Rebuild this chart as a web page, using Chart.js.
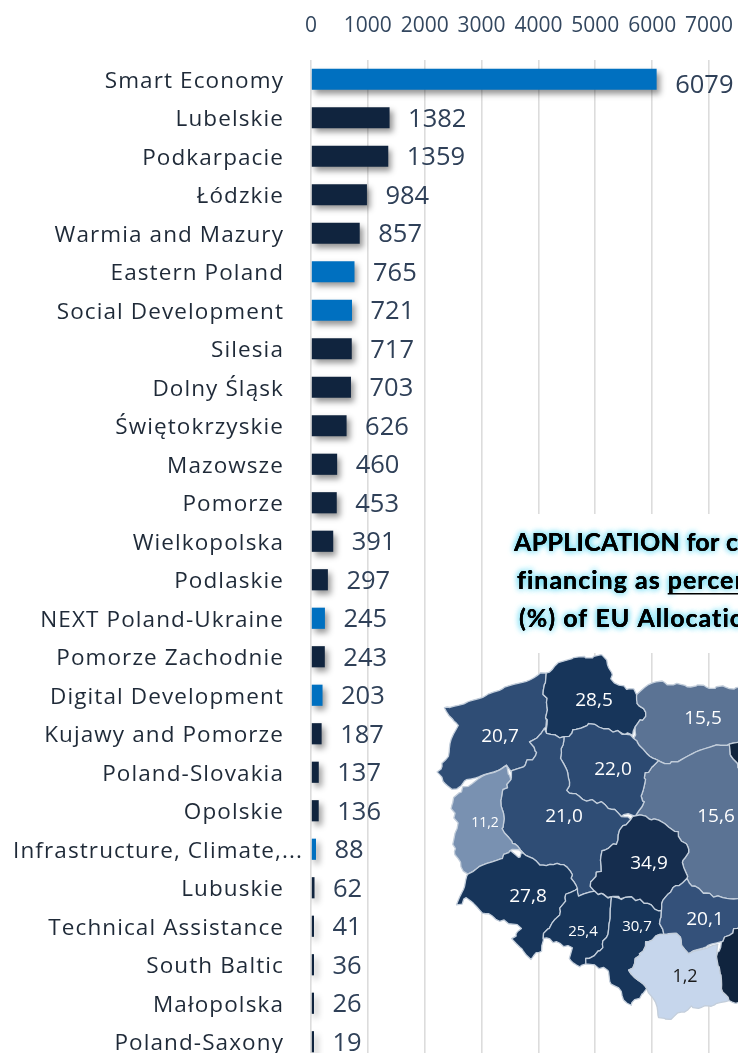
<!DOCTYPE html>
<html><head><meta charset="utf-8">
<script src="https://cdn.jsdelivr.net/npm/chart.js@4/dist/chart.umd.min.js"></script>
<style>html,body{margin:0;padding:0;background:#fff;overflow:hidden;width:738px;height:1053px}canvas{display:block;filter:blur(.35px)}</style>
</head><body><canvas id="c" width="738" height="1061"></canvas>
<script>
const categories=["Smart Economy","Lubelskie","Podkarpacie","Łódzkie","Warmia and Mazury","Eastern Poland","Social Development","Silesia","Dolny Śląsk","Świętokrzyskie","Mazowsze","Pomorze","Wielkopolska","Podlaskie","NEXT Poland-Ukraine","Pomorze Zachodnie","Digital Development","Kujawy and Pomorze","Poland-Slovakia","Opolskie","Infrastructure, Climate,...","Lubuskie","Technical Assistance","South Baltic","Małopolska","Poland-Saxony"];
const values=[6079,1382,1359,984,857,765,721,717,703,626,460,453,391,297,245,243,203,187,137,136,88,62,41,36,26,19];
const nationalPrograms=["Smart Economy","Eastern Poland","Social Development","NEXT Poland-Ukraine","Digital Development","Infrastructure, Climate,..."];
const xTicks=[0,1000,2000,3000,4000,5000,6000,7000];
const titleLines=["APPLICATION for co-","financing as percentage","(%) of EU Allocation"];
const mapLabels=["20,7","28,5","15,5","22,0","21,0","11,2","15,6","34,9","27,8","25,4","30,7","20,1","1,2"];

// Inset choropleth illustration (not on the chart's axes): outlines in picture units
const mapShapes=[
 {fill:'#2f4d75',text:[0,500,737,19],pts:[[445,709],[451,706],[470,700],[490,693],[510,687],[525,680],[540,673],[545,673],[543,690],[547,703],[545,717],[545,730],[530,743],[538,753],[522,767],[510,770],[508,765],[467,780],[453,790],[443,780],[438,773],[447,755],[457,727],[453,717]]},
 {fill:'#17355a',text:[1,594,701,19],pts:[[545,673],[563,662],[583,657],[603,656],[610,667],[612,680],[623,687],[635,690],[638,703],[647,717],[638,723],[633,735],[617,732],[600,727],[590,725],[577,728],[565,738],[548,733],[545,717],[547,703],[543,690]]},
 {fill:'#5b7394',text:[2,703,719,19],pts:[[638,693],[657,682],[680,685],[710,687],[745,688],[745,740],[730,743],[713,747],[693,755],[677,763],[657,762],[643,750],[633,737],[638,723],[647,717],[638,703]]},
 {fill:'#5b7394',text:[6,716,817,19],pts:[[657,762],[677,763],[693,755],[713,747],[730,743],[732,757],[738,768],[745,770],[745,897],[723,898],[703,892],[687,880],[683,860],[690,850],[677,833],[663,822],[637,815],[643,803],[642,797],[647,780],[643,777]]},
 {fill:'#10243e',pts:[[730,743],[745,740],[745,770],[738,768],[732,757]]},
 {fill:'#2c4a72',text:[3,613,770,19],pts:[[565,738],[577,728],[590,725],[600,727],[617,732],[633,737],[643,750],[657,762],[643,777],[647,780],[642,797],[643,803],[637,815],[620,815],[600,803],[587,800],[567,790],[570,780],[563,763],[560,750]]},
 {fill:'#2f4d75',text:[4,564,817,19],pts:[[545,730],[548,733],[565,738],[560,750],[563,763],[570,780],[567,790],[587,800],[600,803],[620,815],[630,820],[623,827],[615,843],[603,852],[600,870],[590,883],[593,892],[580,897],[575,887],[570,870],[557,862],[547,867],[533,860],[525,852],[513,843],[503,830],[502,793],[510,780],[510,770],[522,767],[538,753],[530,743]]},
 {fill:'#7991b1',text:[5,485,823,14],pts:[[508,765],[510,780],[502,793],[503,830],[513,843],[525,852],[510,850],[500,860],[480,868],[467,873],[457,860],[453,843],[457,823],[452,810],[455,797],[467,785]]},
 {fill:'#152d4e',text:[7,649,864,19],pts:[[637,815],[663,822],[677,833],[690,850],[683,860],[687,880],[667,893],[660,912],[643,902],[630,898],[613,897],[593,892],[590,883],[600,870],[603,852],[615,843],[623,827],[630,820]]},
 {fill:'#17355a',text:[8,528,897,19],pts:[[467,873],[480,868],[500,860],[510,850],[517,858],[525,852],[533,860],[547,867],[557,862],[570,870],[575,887],[577,890],[567,893],[557,917],[542,937],[543,950],[530,958],[513,940],[520,927],[500,920],[480,910],[467,897],[458,906],[463,893]]},
 {fill:'#17355a',text:[9,583,932,15],pts:[[577,890],[580,897],[593,892],[613,898],[610,917],[607,933],[600,950],[587,960],[580,968],[570,957],[573,948],[542,937],[557,917],[567,893]]},
 {fill:'#17355a',text:[10,637,927,15],pts:[[613,898],[630,898],[643,902],[660,912],[660,920],[663,933],[647,943],[630,970],[647,990],[630,1005],[610,980],[607,970],[587,963],[587,960],[600,950],[607,933],[610,917]]},
 {fill:'#34517a',text:[11,705,920,19],pts:[[687,880],[703,892],[723,898],[745,897],[745,922],[738,927],[720,943],[687,953],[677,935],[663,933],[660,920],[660,912],[667,893]]},
 {fill:'#c6d6ec',text:[12,685,977,18,'#1a1a1a'],pts:[[663,933],[677,935],[687,953],[718,943],[718,957],[720,980],[728,1002],[710,1007],[690,1007],[670,1018],[660,1017],[650,993],[647,990],[630,970],[647,943]]},
 {fill:'#10243e',pts:[[745,922],[738,927],[720,943],[718,957],[720,980],[728,1002],[745,1002]]}
];

// rugged border look: same position always shifts the same way, so shared borders stay shared
const rough=(x,y)=>[x+1.5*Math.sin(1.7*y+.9*x),y+1.5*Math.sin(1.9*x+.8*y)];
function tracePath(c,pts){
 c.beginPath();
 pts.forEach((p,i)=>{
  const q=pts[(i+1)%pts.length],n=Math.max(1,Math.round(Math.hypot(q[0]-p[0],q[1]-p[1])/4));
  for(let k=0;k<n;k++){
   const a=rough(p[0]+(q[0]-p[0])*k/n,p[1]+(q[1]-p[1])*k/n);
   (i||k)?c.lineTo(a[0],a[1]):c.moveTo(a[0],a[1]);
  }
 });
 c.closePath();
}

const shadowPlugin={id:'barShadow',
 beforeDatasetDraw(ch){const c=ch.ctx;c.save();c.shadowColor='rgba(0,0,0,.42)';c.shadowBlur=6;c.shadowOffsetX=3;c.shadowOffsetY=4;},
 afterDatasetDraw(ch){ch.ctx.restore();}};

const yLabelPlugin={id:'yLabelStyle',beforeDraw(ch){
 const s=ch.scales.y,c=ch.ctx;if(s._styled)return;s._styled=true;
 const items=s.getLabelItems();
 items.forEach(it=>{it.options.translation[1]+=2;});
 items[categories.indexOf("Infrastructure, Climate,...")].options.translation[0]+=19;
 const draw=s.drawLabels;
 s.drawLabels=function(a){c.letterSpacing='1.1px';draw.call(this,a);c.letterSpacing='0px';};
}};

const valuePlugin={id:'valueLabels',afterDatasetsDraw(ch){
 const c=ch.ctx,meta=ch.getDatasetMeta(0);c.save();
 c.font='25.5px "Open Sans"';c.fillStyle='#2f4058';c.textAlign='left';c.textBaseline='middle';
 meta.data.forEach((b,i)=>{c.fillText(String(values[i]),b.x+18.5,b.y+(i===0?6:1.5));});
 c.restore();}};

const insetPlugin={id:'inset',afterDatasetsDraw(ch){
 const c=ch.ctx;c.save();
 c.fillStyle='#fff';c.fillRect(503,514,240,139);
 c.font='bold 25px Lato';c.textBaseline='alphabetic';c.textAlign='left';
 const lx=[514,517,519],ly=[551,589,627],sp=['.3px','1px','1px'];
 titleLines.forEach((t,i)=>{
  c.letterSpacing=sp[i];
  c.save();c.shadowColor='#5fd8f2';c.shadowBlur=6;c.fillStyle='#000';
  c.fillText(t,lx[i],ly[i]);c.fillText(t,lx[i],ly[i]);c.restore();
  c.fillStyle='#000';c.fillText(t,lx[i],ly[i]);
 });
 c.letterSpacing='1px';
 const w0=c.measureText('financing as ').width;
 c.letterSpacing='0px';
 c.fillStyle='#000';c.fillRect(lx[1]+w0,ly[1]+4,120,1.5);
 mapShapes.forEach(s=>{
  tracePath(c,s.pts);
  c.fillStyle=s.fill;c.fill();c.strokeStyle='#c3cedb';c.lineWidth=1.3;c.lineJoin='round';c.stroke();
 });
 c.textAlign='center';c.textBaseline='middle';
 mapShapes.forEach(s=>{if(!s.text)return;const[t,x,y,sz,col]=s.text;
  c.font=sz+'px "Open Sans"';c.fillStyle=col||'#fff';c.fillText(mapLabels[t],x,y);});
 c.restore();}};

new Chart(document.getElementById('c'),{
 type:'bar',
 data:{labels:categories,datasets:[{data:values,
  backgroundColor:categories.map(n=>nationalPrograms.includes(n)?'#0070c0':'#10243e'),
  borderWidth:0,categoryPercentage:1,barPercentage:.55,minBarLength:3}]},
 plugins:[shadowPlugin,yLabelPlugin,valuePlugin,insetPlugin],
 options:{indexAxis:'y',responsive:false,animation:false,devicePixelRatio:1,
  layout:{padding:{left:0,right:29,top:0,bottom:0}},
  plugins:{legend:{display:false},tooltip:{enabled:false},title:{display:false}},
  scales:{
   x:{position:'top',min:0,max:7000,afterBuildTicks(s){s.ticks=xTicks.map(v=>({value:v}));},
    afterFit(s){s.height=60;s.paddingLeft=0;s.paddingRight=0;s.paddingTop=0;s.paddingBottom=0;},
    grid:{color:'#dcdcdc',lineWidth:1.6,drawTicks:false},border:{display:false},
    ticks:{color:'#33475f',font:{family:'"Open Sans"',size:21},padding:21,maxRotation:0,autoSkip:false,callback:v=>String(v)}},
   y:{afterFit(s){s.width=311;s.paddingLeft=0;s.paddingRight=0;s.paddingTop=0;s.paddingBottom=0;},grid:{display:false,drawTicks:false},border:{display:false},
    ticks:{color:'#1f2a38',font:{family:'"Open Sans"',size:22.5},padding:27,autoSkip:false}}
  }}
});
</script></body></html>
